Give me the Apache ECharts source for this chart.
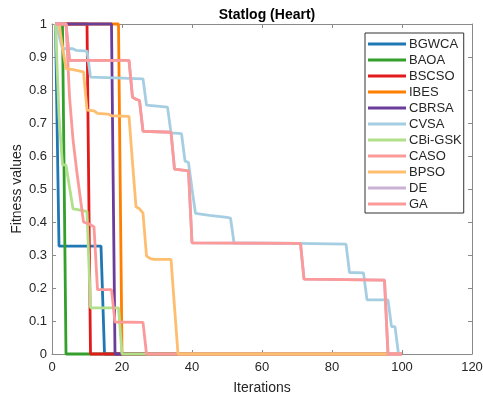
<!DOCTYPE html>
<html>
<head>
<meta charset="utf-8">
<script src="https://cdn.jsdelivr.net/npm/echarts@6/dist/echarts.min.js"></script>
<style>
  html, body { margin: 0; padding: 0; background: #fff; }
  #chart { width: 483px; height: 398px; }
</style>
</head>
<body>
<div id="chart"></div>
<script>
// Convergence curves on Statlog (Heart): [iteration, best fitness] at each change point
const algorithms = ['BGWCA', 'BAOA', 'BSCSO', 'IBES', 'CBRSA', 'CVSA', 'CBi-GSK', 'CASO', 'BPSO', 'DE', 'GA'];

const bgwca = [[1, 1], [2, 0.327], [14, 0.327], [15, 0], [100, 0]];
const baoa = [[1, 1], [3, 1], [4, 0], [100, 0]];
const bscso = [[1, 1], [10, 1], [11, 0], [100, 0]];
const ibes = [[1, 1], [19, 1], [20, 0], [100, 0]];
const cbrsa = [[1, 1], [17, 1], [18, 0], [100, 0]];
const cvsa = [[1, 1], [2, 0.965], [3, 0.925], [6, 0.925], [7, 0.92], [10, 0.918], [11, 0.839],
  [18, 0.837], [26, 0.834], [27, 0.754], [33, 0.748], [34, 0.67], [37, 0.668], [38, 0.585],
  [39, 0.58], [40, 0.5], [41, 0.426], [45, 0.42], [50, 0.414], [51, 0.412], [52, 0.337],
  [70, 0.335], [84, 0.333], [85, 0.247], [89, 0.246], [90, 0.164], [96, 0.164], [97, 0.083],
  [98, 0.083], [99, 0], [100, 0]];
const cbiGsk = [[1, 1], [2, 0.72], [3, 0.573], [4, 0.573], [5, 0.505], [6, 0.44], [7, 0.438],
  [8, 0.436], [9, 0.434], [10, 0.432], [11, 0.14], [19, 0.14], [20, 0], [100, 0]];
const caso = [[1, 1], [4, 1], [5, 0.78], [6, 0.65], [7, 0.56], [8, 0.48], [9, 0.4], [11, 0.392],
  [12, 0.385], [13, 0.195], [17, 0.195], [18, 0.097], [26, 0.096], [27, 0], [100, 0]];
const bpso = [[1, 1], [2, 1], [3, 0.93], [4, 0.865], [6, 0.862], [8, 0.857], [9, 0.855],
  [10, 0.739], [12, 0.737], [13, 0.729], [16, 0.727], [17, 0.722], [22, 0.72], [23, 0.58],
  [24, 0.446], [25, 0.44], [26, 0.427], [27, 0.297], [28, 0.29], [29, 0.287], [34, 0.287],
  [35, 0.143], [36, 0], [100, 0]];
const de = [[1, 1], [4, 1], [5, 0.89], [22, 0.89], [23, 0.778], [24, 0.772], [25, 0.768],
  [26, 0.675], [34, 0.672], [35, 0.56], [39, 0.555], [40, 0.337], [71, 0.335], [72, 0.227],
  [95, 0.224], [96, 0], [100, 0]];
const ga = [[1, 1], [4, 1], [5, 0.89], [22, 0.89], [23, 0.778], [24, 0.772], [25, 0.768],
  [26, 0.675], [34, 0.672], [35, 0.56], [39, 0.555], [40, 0.337], [71, 0.335], [72, 0.227],
  [95, 0.224], [96, 0], [100, 0]];

const seriesData = [bgwca, baoa, bscso, ibes, cbrsa, cvsa, cbiGsk, caso, bpso, de, ga];
const colors = ['#1F78B4', '#33A02C', '#E31A1C', '#FF7F00', '#6A3D9A', '#A6CEE3',
  '#B2DF8A', '#FB9A99', '#FDBF6F', '#CAB2D6', '#FB9A99'];

const xTicks = { min: 0, max: 120, interval: 20 };
const yTicks = { min: 0, max: 1, interval: 0.1 };

const FONT = '"Liberation Sans", Arial, Helvetica, sans-serif';
const AXIS_GRAY = '#8a8a8a';
const TEXT_DARK = '#262626';

const chart = echarts.init(document.getElementById('chart'), null, { renderer: 'canvas' });

function boxAxis(extra) {
  return Object.assign({
    type: 'value',
    axisLine: { show: true, onZero: false, lineStyle: { color: AXIS_GRAY, width: 1 } },
    axisTick: { show: true, inside: true, length: 4, lineStyle: { color: AXIS_GRAY } },
    splitLine: { show: false },
    axisLabel: { show: false }
  }, extra);
}

chart.setOption({
  animation: false,
  backgroundColor: '#fff',
  textStyle: { fontFamily: FONT },
  title: {
    text: 'Statlog (Heart)',
    left: 262, textAlign: 'center', top: 3,
    textStyle: { fontFamily: FONT, fontSize: 14, fontWeight: 'bold', color: '#000' }
  },
  grid: {
    left: 52, top: 24, width: 420, height: 330,
    containLabel: false,
    outerBoundsMode: 'none'
  },
  legend: {
    orient: 'vertical',
    left: 365, top: 33,
    data: algorithms,
    icon: 'rect',
    itemWidth: 38, itemHeight: 3,
    itemGap: 0,
    padding: [3, 2, 1, 3],
    backgroundColor: '#fff',
    borderColor: '#333', borderWidth: 1, borderRadius: 0,
    textStyle: { fontFamily: FONT, fontSize: 13, lineHeight: 16, color: TEXT_DARK, padding: [0, 0, 0, -2] }
  },
  xAxis: [
    boxAxis(Object.assign({
      position: 'bottom',
      name: 'Iterations', nameLocation: 'middle', nameGap: 27, nameMoveOverlap: false,
      nameTextStyle: { fontFamily: FONT, fontSize: 14, color: TEXT_DARK },
      axisLabel: { show: true, margin: 7, fontFamily: FONT, fontSize: 13, color: TEXT_DARK }
    }, xTicks)),
    boxAxis(Object.assign({ position: 'top' }, xTicks))
  ],
  yAxis: [
    boxAxis(Object.assign({
      position: 'left',
      name: 'Fitness values', nameLocation: 'middle', nameGap: 28, nameRotate: 90,
      nameMoveOverlap: false,
      nameTextStyle: { fontFamily: FONT, fontSize: 14, color: TEXT_DARK },
      axisLabel: {
        show: true, margin: 5, fontFamily: FONT, fontSize: 13, color: TEXT_DARK,
        formatter: v => String(+v.toFixed(1))
      }
    }, yTicks)),
    boxAxis(Object.assign({ position: 'right' }, yTicks))
  ],
  series: algorithms.map((name, i) => ({
    name: name,
    type: 'line',
    xAxisIndex: 0, yAxisIndex: 0,
    data: seriesData[i],
    showSymbol: false,
    symbol: 'none',
    clip: false,
    color: colors[i],
    lineStyle: { color: colors[i], width: 2.8 },
    emphasis: { disabled: true },
    z: 2 + i * 0.01
  }))
});
</script>
</body>
</html>
